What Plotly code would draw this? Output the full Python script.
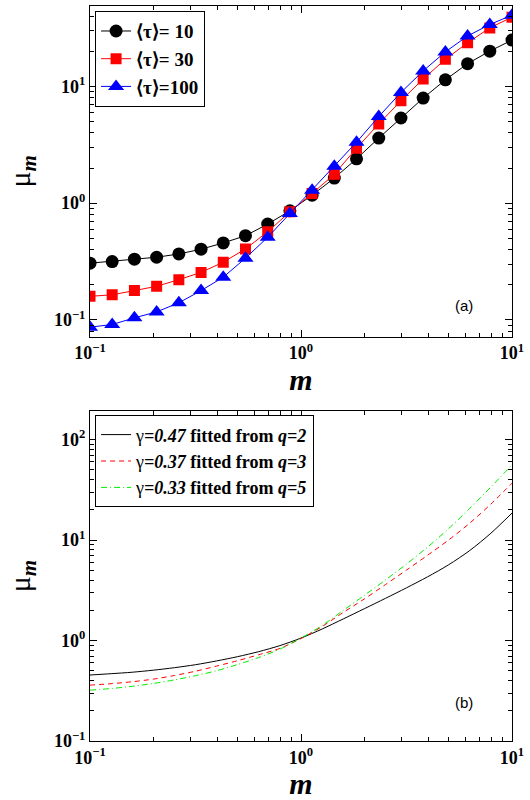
import plotly.graph_objects as go

# ---------------- data: panel (a) ----------------
m_a = [0.1, 0.1274, 0.1624, 0.2069, 0.2637, 0.336, 0.4281, 0.5456, 0.6952, 0.8859,
       1.1288, 1.4384, 1.833, 2.3357, 2.9764, 3.7927, 4.8329, 6.1585, 7.8476, 10.0]
mu_tau10 = [0.306, 0.316, 0.331, 0.344, 0.367, 0.403, 0.456, 0.526, 0.662, 0.860,
            1.17, 1.64, 2.40, 3.61, 5.37, 7.95, 11.4, 15.7, 20.1, 25.0]
mu_tau30 = [0.159, 0.164, 0.178, 0.194, 0.221, 0.255, 0.312, 0.405, 0.569, 0.843,
            1.21, 1.77, 2.96, 4.78, 7.55, 11.6, 17.1, 23.7, 31.8, 39.3]
mu_tau100 = [0.0865, 0.0912, 0.104, 0.117, 0.140, 0.178, 0.232, 0.338, 0.510, 0.817,
             1.29, 2.07, 3.33, 5.52, 8.89, 13.6, 19.8, 27.1, 34.0, 40.9]
names_a = ["⟨τ⟩= 10", "⟨τ⟩= 30", "⟨τ⟩=100"]

# ---------------- data: panel (b) ----------------
m_b = [0.1, 0.1259, 0.1585, 0.1995, 0.2512, 0.3162, 0.3981, 0.5012, 0.631, 0.7943,
       1.0, 1.259, 1.585, 1.995, 2.512, 3.162, 3.981, 5.012, 6.31, 7.943, 10.0]
mu_q2 = [0.454, 0.468, 0.484, 0.507, 0.537, 0.575, 0.627, 0.692, 0.776, 0.891,
         1.059, 1.303, 1.641, 2.075, 2.630, 3.350, 4.315, 5.689, 7.889, 11.72, 18.58]
mu_q3 = [0.360, 0.372, 0.389, 0.413, 0.449, 0.495, 0.557, 0.631, 0.723, 0.836,
         1.047, 1.380, 1.905, 2.594, 3.606, 5.035, 7.079, 10.05, 14.79, 22.86, 36.90]
mu_q5 = [0.321, 0.333, 0.350, 0.374, 0.406, 0.447, 0.501, 0.578, 0.679, 0.822,
         1.059, 1.413, 1.995, 2.818, 4.009, 5.781, 8.531, 13.03, 20.75, 33.81, 56.10]
names_b = ["γ<b><i>=0.47</i> fitted from <i>q=2</i></b>",
           "γ<b><i>=0.37</i> fitted from <i>q=3</i></b>",
           "γ<b><i>=0.33</i> fitted from <i>q=5</i></b>"]

x_tickvals = [0.1, 1, 10]
x_ticktext = ["<b>10<sup>−1</sup></b>", "<b>10<sup>0</sup></b>", "<b>10<sup>1</sup></b>"]
ya_tickvals = [0.1, 1, 10]
ya_ticktext = ["<b>10<sup>−1</sup></b>", "<b>10<sup>0</sup></b>", "<b>10<sup>1</sup></b>"]
yb_tickvals = [0.1, 1, 10, 100]
yb_ticktext = ["<b>10<sup>−1</sup></b>", "<b>10<sup>0</sup></b>", "<b>10<sup>1</sup></b>", "<b>10<sup>2</sup></b>"]

SERIF = "Liberation Serif"

fig = go.Figure()

fig.add_trace(go.Scatter(x=m_a, y=mu_tau10, mode="lines+markers", name="<b>" + names_a[0] + "</b>",
                         line=dict(color="black", width=1),
                         marker=dict(symbol="circle", size=13, color="black"),
                         xaxis="x", yaxis="y", legend="legend"))
fig.add_trace(go.Scatter(x=m_a, y=mu_tau30, mode="lines+markers", name="<b>" + names_a[1] + "</b>",
                         line=dict(color="red", width=1),
                         marker=dict(symbol="square", size=11, color="red"),
                         xaxis="x", yaxis="y", legend="legend"))
fig.add_trace(go.Scatter(x=m_a, y=mu_tau100, mode="lines+markers", name="<b>" + names_a[2] + "</b>",
                         line=dict(color="blue", width=1),
                         marker=dict(symbol="triangle-up", size=14, color="blue"),
                         xaxis="x", yaxis="y", legend="legend"))

fig.add_trace(go.Scatter(x=m_b, y=mu_q2, mode="lines", name=names_b[0],
                         line=dict(color="black", width=1, shape="spline", smoothing=0.8),
                         xaxis="x2", yaxis="y2", legend="legend2"))
fig.add_trace(go.Scatter(x=m_b, y=mu_q3, mode="lines", name=names_b[1],
                         line=dict(color="#ff0000", width=1, dash="5px,4px", shape="spline", smoothing=0.8),
                         xaxis="x2", yaxis="y2", legend="legend2"))
fig.add_trace(go.Scatter(x=m_b, y=mu_q5, mode="lines", name=names_b[2],
                         line=dict(color="#00ee00", width=1, dash="6px,3px,1px,3px", shape="spline", smoothing=0.8),
                         xaxis="x2", yaxis="y2", legend="legend2"))


def xax(anchor):
    return dict(type="log", range=[-1, 1], anchor=anchor, domain=[0, 1],
                tickvals=x_tickvals, ticktext=x_ticktext, ticks="inside", ticklen=7,
                tickfont=dict(family=SERIF, size=18, color="black"),
                minor=dict(ticks="inside", ticklen=4, tickcolor="black",
                           tickvals=[0.2, 0.3, 0.4, 0.5, 0.6, 0.7, 0.8, 0.9,
                                     2, 3, 4, 5, 6, 7, 8, 9], showgrid=False),
                showline=True, linecolor="black", linewidth=1, mirror="allticks",
                showgrid=False, zeroline=False, tickcolor="black",
                title=dict(text="<b><i>m</i></b>", font=dict(family=SERIF, size=30, color="black"),
                           standoff=6))


def yax(anchor, domain, rng, tv, tt):
    minor_vals = []
    for d in [0.01, 0.1, 1, 10]:
        for k in range(2, 10):
            minor_vals.append(round(d * k, 4))
    return dict(type="log", range=rng, anchor=anchor, domain=domain,
                tickvals=tv, ticktext=tt, ticks="inside", ticklen=7,
                tickfont=dict(family=SERIF, size=18, color="black"),
                minor=dict(ticks="inside", ticklen=4, tickcolor="black",
                           tickvals=minor_vals, showgrid=False),
                showline=True, linecolor="black", linewidth=1, mirror="allticks",
                showgrid=False, zeroline=False, tickcolor="black",
                title=dict(text="μ<sub><b><i>m</i></b></sub>",
                           font=dict(family=SERIF, size=30, color="black"), standoff=14))


fig.update_layout(
    width=530, height=800,
    margin=dict(l=90, r=18, t=5, b=55),
    paper_bgcolor="white", plot_bgcolor="white",
    showlegend=True,
    xaxis=xax("y"),
    xaxis2=xax("y2"),
    yaxis=yax("x", [0.55, 1.0], [-1.145, 1.69], ya_tickvals, ya_ticktext),
    yaxis2=yax("x2", [0.0, 0.4486], [-1.0, 2.283], yb_tickvals, yb_ticktext),
    legend=dict(x=0.012, y=0.993, xanchor="left", yanchor="top",
                bordercolor="black", borderwidth=1, bgcolor="white",
                font=dict(family=SERIF, size=19, color="black"),
                tracegroupgap=0, itemwidth=30),
    legend2=dict(x=0.012, y=0.443, xanchor="left", yanchor="top",
                 bordercolor="black", borderwidth=1, bgcolor="white",
                 font=dict(family=SERIF, size=18, color="black"),
                 tracegroupgap=0, itemwidth=30),
    annotations=[
        dict(text="(a)", x=0.912, y=0.063, xref="x domain", yref="y domain",
             showarrow=False, font=dict(family="Liberation Sans", size=15, color="black")),
        dict(text="(b)", x=0.912, y=0.084, xref="x2 domain", yref="y2 domain",
             showarrow=False, font=dict(family="Liberation Sans", size=15, color="black")),
    ],
)

fig.write_html("out.html", config={"displayModeBar": False},
               post_script="document.body.style.margin='0px';")
